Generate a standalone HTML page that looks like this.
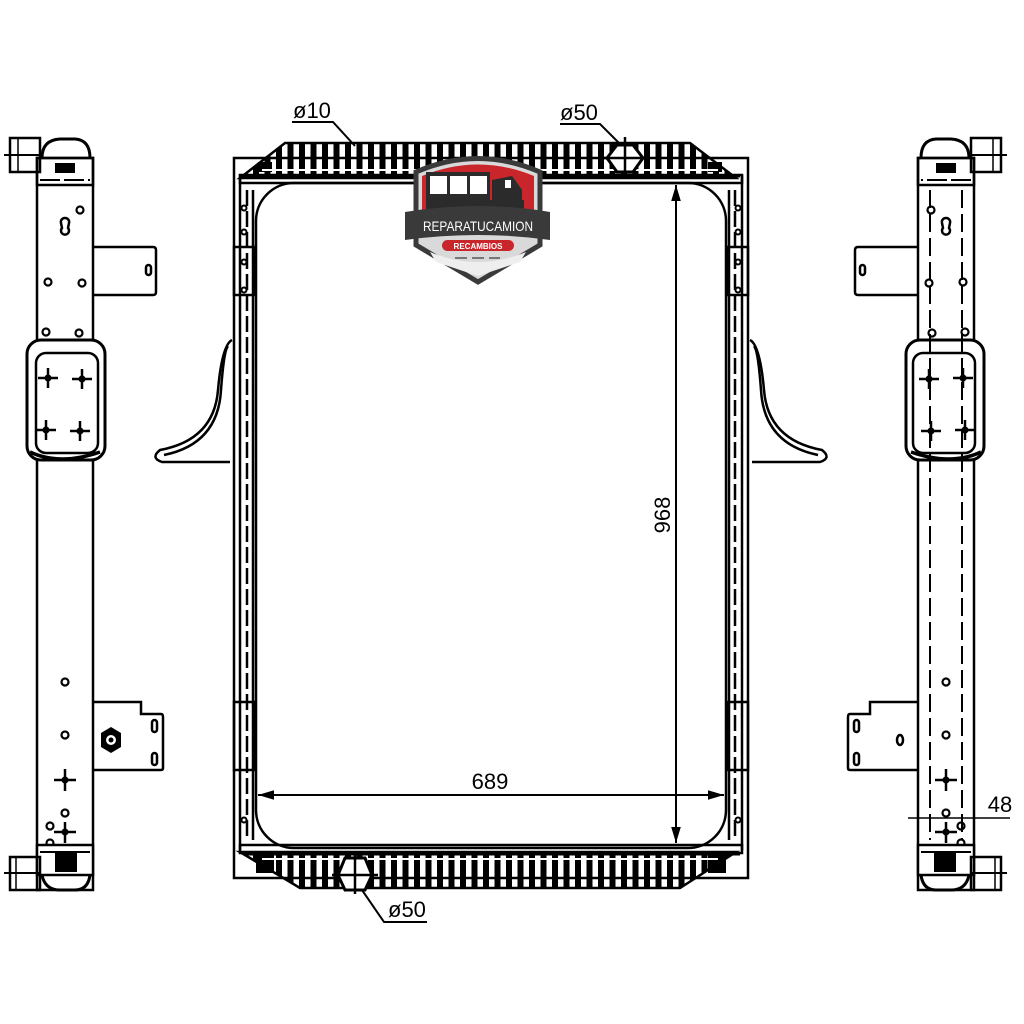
<!DOCTYPE html>
<html><head><meta charset="utf-8"><style>
html,body{margin:0;padding:0;background:#fff;width:1024px;height:1024px;overflow:hidden}
svg{display:block}
text{font-family:"Liberation Sans",sans-serif}
</style></head><body>
<svg width="1024" height="1024" viewBox="0 0 1024 1024" xmlns="http://www.w3.org/2000/svg">
<defs>
<pattern id="fins" x="0" y="0" width="11.5" height="60" patternUnits="userSpaceOnUse">
<rect x="0" y="0" width="6" height="60" fill="#000"/>
</pattern>
<marker id="ar" viewBox="0 0 10 10" refX="10" refY="5" markerWidth="8" markerHeight="8" orient="auto-start-reverse"><path d="M0,2 L10,5 L0,8 Z" fill="#000"/></marker>
<g id="side">
 <rect x="10" y="138" width="30" height="34" fill="none" stroke="#000" stroke-width="2.5"/>
 <line x1="4" y1="155" x2="40" y2="155" stroke="#000" stroke-width="2"/>
 <line x1="18" y1="138" x2="18" y2="172" stroke="#000" stroke-width="1.5"/>
 <path d="M42,158 Q42,140 60,139 L75,139 Q90,140 90,158" fill="none" stroke="#000" stroke-width="3"/>
 <rect x="37" y="158" width="56" height="732" fill="none" stroke="#000" stroke-width="2.5"/>
 <rect x="37" y="158" width="56" height="27" fill="none" stroke="#000" stroke-width="2.5"/>
 <rect x="55" y="163" width="20" height="10" fill="#000"/>
 <line x1="40" y1="180" x2="90" y2="180" stroke="#000" stroke-width="2" stroke-dasharray="20,4"/>
 <path d="M65,218 a4,4 0 0 1 4,5 l-1,5 a4,4 0 1 1 -6,0 l-1,-5 a4,4 0 0 1 4,-5z" fill="none" stroke="#000" stroke-width="2.5"/>
 <g fill="none" stroke="#000" stroke-width="2.2">
 <circle cx="80" cy="210" r="3.5"/><circle cx="48" cy="282" r="3.5"/><circle cx="82" cy="283" r="3.5"/>
 <circle cx="46" cy="332" r="3.5"/><circle cx="79" cy="333" r="3.5"/>
 <circle cx="65" cy="682" r="3.5"/><circle cx="65" cy="735" r="3.5"/><circle cx="65" cy="813" r="3.5"/>
 <circle cx="50" cy="826" r="3.5"/><circle cx="50" cy="843" r="3.5"/>
 </g>
 <path d="M93,247 L153,247 Q156,247 156,250 L156,292 Q156,295 153,295 L93,295" fill="none" stroke="#000" stroke-width="2.5"/>
 <rect x="146" y="265" width="5" height="10" rx="2.5" fill="none" stroke="#000" stroke-width="2.5"/>
 <rect x="27" y="340" width="78" height="120" rx="14" fill="#fff" stroke="#000" stroke-width="3"/>
 <rect x="36" y="353" width="62" height="100" rx="10" fill="none" stroke="#000" stroke-width="2.5"/>
 <path d="M30,452 Q60,466 100,452" fill="none" stroke="#000" stroke-width="3.5"/>
 <g stroke="#000" stroke-width="2.5">
 <line x1="38" y1="378" x2="58" y2="378"/><line x1="48" y1="368" x2="48" y2="388"/>
 <line x1="72" y1="379" x2="92" y2="379"/><line x1="82" y1="369" x2="82" y2="389"/>
 <line x1="36" y1="430" x2="56" y2="430"/><line x1="46" y1="420" x2="46" y2="440"/>
 <line x1="70" y1="431" x2="90" y2="431"/><line x1="80" y1="421" x2="80" y2="441"/>
 <line x1="54" y1="780" x2="76" y2="780"/><line x1="65" y1="769" x2="65" y2="791"/>
 <line x1="54" y1="832" x2="76" y2="832"/><line x1="65" y1="822" x2="65" y2="843"/>
 </g>
 <g fill="#000"><circle cx="48" cy="378" r="3.5"/><circle cx="82" cy="379" r="3.5"/><circle cx="46" cy="430" r="3.5"/><circle cx="80" cy="431" r="3.5"/><circle cx="65" cy="780" r="3.5"/><circle cx="65" cy="832" r="3.5"/></g>
 <path d="M93,702 L141,702 L141,714 L161,714 Q163,714 163,717 L163,768 Q163,770 161,770 L93,770" fill="none" stroke="#000" stroke-width="2.5"/>
 <rect x="152" y="720" width="5" height="12" rx="2.5" fill="none" stroke="#000" stroke-width="2.5"/>
 <rect x="152" y="753" width="5" height="12" rx="2.5" fill="none" stroke="#000" stroke-width="2.5"/>
 <rect x="37" y="845" width="56" height="30" fill="#fff" stroke="#000" stroke-width="2.5"/>
 <line x1="40" y1="852" x2="90" y2="852" stroke="#000" stroke-width="2"/>
 <rect x="55" y="853" width="22" height="19" fill="#000"/>
 <path d="M42,875 Q45,890 60,890 L75,890 Q88,890 90,875" fill="none" stroke="#000" stroke-width="3"/>
 <rect x="10" y="857" width="30" height="33" fill="none" stroke="#000" stroke-width="2.5"/>
 <line x1="4" y1="873" x2="40" y2="873" stroke="#000" stroke-width="2"/>
 <line x1="16" y1="857" x2="16" y2="890" stroke="#000" stroke-width="1.5"/>
</g>
</defs>

<use href="#side"/>
<polygon points="111,727 121,733 121,747 111,753 101,747 101,733" fill="#000"/>
<circle cx="111" cy="740" r="5" fill="#fff"/><circle cx="111" cy="740" r="2.5" fill="#000"/>
<use href="#side" transform="translate(1011,0) scale(-1,1)"/>
<line x1="930" y1="190" x2="930" y2="840" stroke="#000" stroke-width="2" stroke-dasharray="18,6"/>
<line x1="962" y1="190" x2="962" y2="840" stroke="#000" stroke-width="2" stroke-dasharray="18,6"/>
<ellipse cx="900" cy="740" rx="3" ry="5" fill="none" stroke="#000" stroke-width="2.5"/>

<!-- 48 dimension -->
<line x1="908" y1="818" x2="1010" y2="818" stroke="#000" stroke-width="1.5"/>
<text x="1000" y="812" font-size="22" text-anchor="middle">48</text>

<!-- main frame -->
<g fill="none" stroke="#000" stroke-width="2.5">
 <rect x="234" y="158" width="514" height="720"/>
 <line x1="240" y1="175" x2="240" y2="850"/>
 <line x1="742" y1="175" x2="742" y2="850"/>
 <line x1="253" y1="190" x2="253" y2="840"/>
 <line x1="729" y1="190" x2="729" y2="840"/>
 <line x1="247" y1="190" x2="247" y2="840" stroke-dasharray="16,5"/>
 <line x1="735" y1="190" x2="735" y2="840" stroke-dasharray="16,5"/>
 <rect x="240" y="175" width="502" height="8"/>
 <rect x="240" y="845" width="502" height="8"/>
 <rect x="234" y="247" width="20" height="48"/>
 <rect x="728" y="247" width="20" height="48"/>
 <rect x="234" y="702" width="20" height="68"/>
 <rect x="728" y="702" width="20" height="68"/>
 <rect x="256" y="183" width="470" height="665" rx="38"/>
 <path d="M232,340 Q222,345 218,390 Q214,440 160,450 Q150,458 162,462 L230,462"/>
 <path d="M228,346 Q224,350 221,390 Q218,444 164,455"/>
 <path d="M750,340 Q760,345 764,390 Q768,440 822,450 Q832,458 820,462 L752,462"/>
 <path d="M754,346 Q758,350 761,390 Q764,444 818,455"/>
</g>
<g fill="#000">
 <rect x="258" y="162" width="14" height="10"/><rect x="708" y="162" width="14" height="10"/>
 <rect x="256" y="855" width="18" height="18"/><rect x="708" y="855" width="18" height="18"/>
</g>
<g fill="none" stroke="#000" stroke-width="2">
 <circle cx="244" cy="208" r="2.5"/><circle cx="244" cy="232" r="2.5"/><circle cx="244" cy="262" r="2.5"/><circle cx="244" cy="290" r="2.5"/>
 <circle cx="738" cy="208" r="2.5"/><circle cx="738" cy="232" r="2.5"/><circle cx="738" cy="262" r="2.5"/><circle cx="738" cy="290" r="2.5"/>
 <circle cx="244" cy="820" r="2.5"/><circle cx="738" cy="820" r="2.5"/>
</g>

<!-- tanks -->
<polygon points="240,178 285,143 690,143 736,178" fill="url(#fins)" stroke="#000" stroke-width="2.5"/>
<line x1="262" y1="170" x2="718" y2="170" stroke="#fff" stroke-width="2"/>
<line x1="245" y1="176" x2="740" y2="176" stroke="#000" stroke-width="3"/>
<polygon points="240,852 300,888 680,888 736,852" fill="url(#fins)" stroke="#000" stroke-width="2.5"/>
<line x1="262" y1="859" x2="718" y2="859" stroke="#fff" stroke-width="2"/>
<line x1="245" y1="854" x2="740" y2="854" stroke="#000" stroke-width="3"/>

<!-- filler caps -->
<polygon points="617,145 633,145 643,158 633,172 617,172 607,158" fill="#fff" stroke="#000" stroke-width="3"/>
<line x1="603" y1="158" x2="647" y2="158" stroke="#000" stroke-width="2.5"/><line x1="625" y1="137" x2="625" y2="176" stroke="#000" stroke-width="2.5"/>
<polygon points="345,858 365,858 372,875 365,890 345,890 338,875" fill="#fff" stroke="#000" stroke-width="3"/>
<line x1="332" y1="875" x2="378" y2="875" stroke="#000" stroke-width="2.5"/><line x1="355" y1="852" x2="355" y2="894" stroke="#000" stroke-width="2.5"/>

<!-- leaders -->
<g stroke="#000" stroke-width="2" fill="none">
 <polyline points="292,122 333,122 355,146"/>
 <polyline points="560,124 600,124 622,146"/>
 <polyline points="427,922 384,922 362,890"/>
</g>
<text x="293" y="118" font-size="22">ø10</text>
<text x="560" y="120" font-size="22">ø50</text>
<text x="388" y="917" font-size="22">ø50</text>

<!-- dimensions -->
<line x1="676" y1="185" x2="676" y2="843" stroke="#000" stroke-width="2" marker-start="url(#ar)" marker-end="url(#ar)"/>
<text x="0" y="0" font-size="22" text-anchor="middle" transform="translate(670,515) rotate(-90)">968</text>
<line x1="258" y1="795" x2="724" y2="795" stroke="#000" stroke-width="2" marker-start="url(#ar)" marker-end="url(#ar)"/>
<text x="490" y="789" font-size="22" text-anchor="middle">689</text>

<!-- logo -->
<path d="M416,172 Q478,145 540,172 L540,245 L478,282 L416,245 Z" fill="#d9d9d9" stroke="#3a3a3a" stroke-width="5"/>
<path d="M422,176 Q478,153 534,176 L534,215 L422,215 Z" fill="#c8262b"/>
<rect x="426" y="172" width="64" height="30" fill="#2b2b2b"/>
<rect x="430" y="176" width="17" height="18" fill="#fff"/><rect x="450" y="176" width="17" height="18" fill="#fff"/><rect x="470" y="176" width="17" height="18" fill="#fff"/>
<path d="M492,180 L512,176 L522,190 L522,207 L492,207 Z" fill="#2b2b2b"/>
<rect x="505" y="180" width="6" height="8" fill="#fff"/>
<rect x="426" y="200" width="98" height="10" fill="#2b2b2b"/>
<path d="M405,212 Q478,200 550,212 L550,240 Q478,230 405,240 Z" fill="#3a3a3a"/>
<text x="478" y="231" font-size="14" fill="#fff" text-anchor="middle" textLength="110" lengthAdjust="spacingAndGlyphs">REPARATUCAMION</text>
<path d="M430,252 Q478,272 526,252 L520,262 L478,276 L436,262 Z" fill="#eee"/>
<rect x="442" y="240" width="72" height="11" rx="5.5" fill="#c8262b"/>
<text x="478" y="249" font-size="8" font-weight="bold" fill="#fff" text-anchor="middle">RECAMBIOS</text>
<line x1="455" y1="258" x2="500" y2="258" stroke="#777" stroke-width="2" stroke-dasharray="12,5"/>
</svg>
</body></html>
